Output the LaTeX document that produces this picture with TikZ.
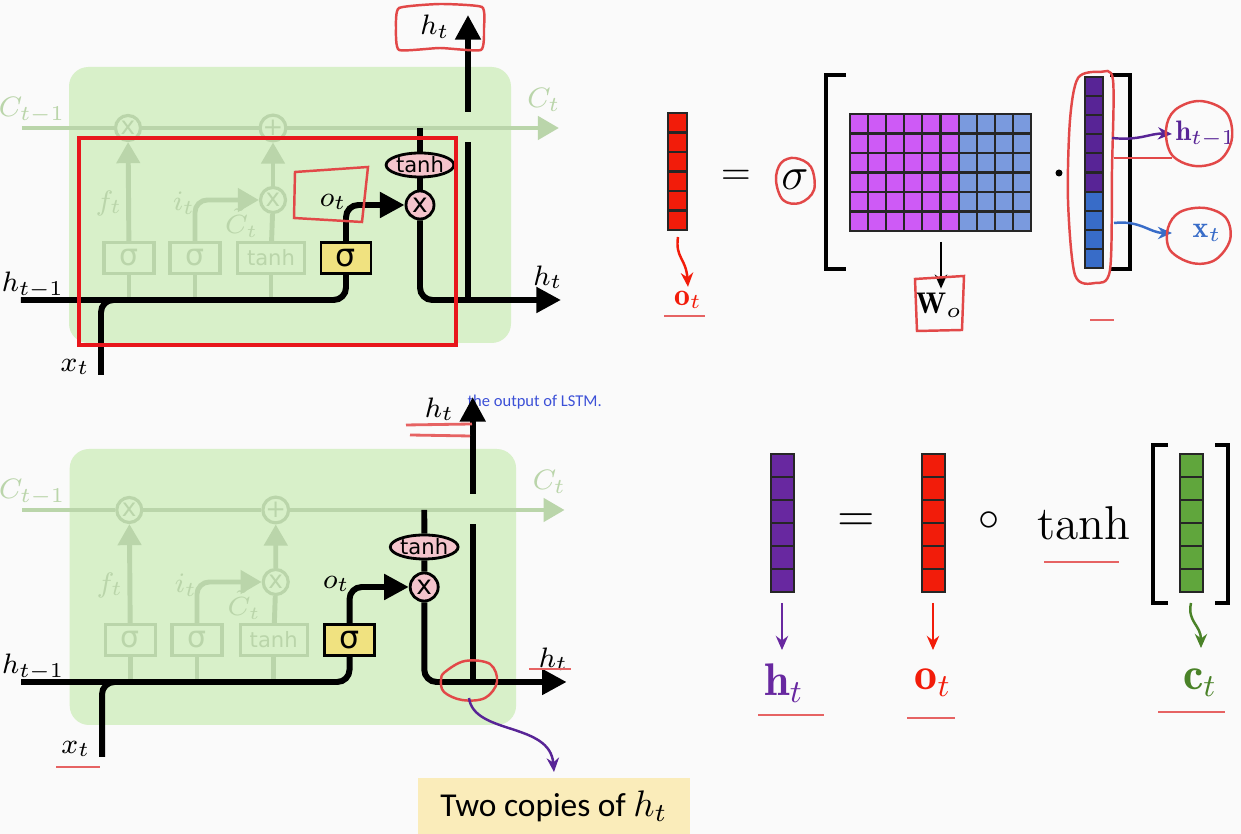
\RequirePackage{fix-cm}
\documentclass[tikz,border=0pt]{standalone}
\usepackage{fontspec}
\newfontfamily\gatefont{DejaVu Sans}
\newfontfamily\notefont{Carlito}
\definecolor{CellGreen}{RGB}{216,240,201}
\definecolor{FadeGreen}{RGB}{186,213,170}
\definecolor{OpPink}{RGB}{244,196,204}
\definecolor{GateYellow}{RGB}{240,226,128}
\definecolor{InkRed}{RGB}{226,72,72}
\definecolor{BoxRed}{RGB}{232,22,28}
\definecolor{VecRed}{RGB}{242,28,10}
\definecolor{VecPurple}{RGB}{104,40,160}
\definecolor{DeepPurple}{RGB}{88,36,150}
\definecolor{VecBlue}{RGB}{56,108,200}
\definecolor{MatPink}{RGB}{206,90,246}
\definecolor{MatBlue}{RGB}{122,154,222}
\definecolor{VecGreen}{RGB}{96,166,60}
\definecolor{LabelGreen}{RGB}{74,130,40}
\definecolor{NoteBlue}{RGB}{60,80,215}
\definecolor{NoteYellow}{RGB}{250,236,186}
\definecolor{PageGray}{RGB}{250,250,250}
\usetikzlibrary{arrows.meta, shapes.geometric, positioning, calc}
\tikzset{
    cellbg/.style={fill=CellGreen, rounded corners=5.5pt},
    faint/.style={draw=FadeGreen, line width=1.4pt, rounded corners=3.5pt},
    fainttip/.style={-{Triangle[length=6pt,width=6.5pt]}},
    faintop/.style={circle, draw=FadeGreen, fill=CellGreen, line width=0.9pt,
        minimum size=0.25cm, inner sep=0pt, text=FadeGreen,
        font=\gatefont\fontsize{7}{7}\selectfont},
    faintbox/.style={draw=FadeGreen, line width=0.9pt, minimum width=0.5cm,
        minimum height=0.31cm, inner sep=0pt, text=FadeGreen,
        font=\gatefont\fontsize{8.5}{9}\selectfont},
    faintlbl/.style={text=FadeGreen, inner sep=0.5pt, font=\fontsize{8}{9}\selectfont},
    flow/.style={line width=1.7pt, rounded corners=3.5pt},
    bigtip/.style={-{Triangle[length=7pt,width=7pt]}},
    opnode/.style={circle, draw, fill=OpPink, line width=0.8pt, minimum size=0.28cm,
        inner sep=0pt, font=\gatefont\fontsize{7.5}{8}\selectfont},
    actnode/.style={ellipse, draw, fill=OpPink, line width=0.8pt, minimum width=0.62cm,
        minimum height=0.24cm, inner sep=0pt, font=\gatefont\fontsize{6}{6}\selectfont},
    gatebox/.style={draw, fill=GateYellow, line width=0.8pt, minimum width=0.5cm,
        minimum height=0.31cm, inner sep=0pt, font=\gatefont\fontsize{9}{9}\selectfont},
    lbl/.style={font=\fontsize{8}{9}\selectfont},
    ink/.style={draw=InkRed, line width=0.7pt},
    underline/.style={draw=InkRed!85, line width=0.8pt},
    cellline/.style={draw=black!85, line width=0.6pt},
    pointer/.style={-{Stealth[length=4pt,width=3.5pt]}, line width=0.7pt},
    bracket/.style={line width=0.9pt}
}
\begin{document}
\begin{tikzpicture}[x=0.01cm, y=-0.01cm]
\useasboundingbox (0,0) rectangle (1241,834);
\fill[PageGray] (0,0) rectangle (1241,834);

\node[anchor=west, text=NoteBlue, font=\notefont\fontsize{4.7}{5}\selectfont, inner sep=0pt] (note) at (467,402) {the output of LSTM.};

% the two LSTM cells
\foreach \dy/\sx/\nm in {0/1/up, 382/1.01/dn}{
\begin{scope}[shift={(0,\dy)}, xscale=\sx]
    \fill[cellbg] (69,67) rectangle (511,343);
    \coordinate (\nm-cin) at (22,128);
    \coordinate (\nm-cout) at (559,128);
    \coordinate (\nm-hin) at (21,300);
    \coordinate (\nm-xin) at (101,375);
    \coordinate (\nm-xjoin) at (200,300);
    \coordinate (\nm-hout) at (561,300);
    \coordinate (\nm-cup) at (420,128);
    \coordinate (\nm-split) at (468,300);
    \coordinate (\nm-gapa) at (468,142);
    \coordinate (\nm-gapb) at (468,112);
    \coordinate (\nm-htop) at (468,15);
    % faded gates
    \node[faintop] (\nm-fx) at (128,128) {x};
    \node[faintop] (\nm-fp) at (273,128) {+};
    \node[faintop] (\nm-fi) at (273,200) {x};
    \node[faintbox] (\nm-fs) at (129,258) {σ};
    \node[faintbox] (\nm-is) at (195,258) {σ};
    \node[faintbox, minimum width=0.67cm, font=\gatefont\fontsize{6}{6}\selectfont] (\nm-ct) at (271,258) {tanh};
    \draw[faint] (\nm-cin) -- (\nm-fx) -- (\nm-fp);
    \draw[faint, fainttip] (\nm-fp) -- (\nm-cout);
    \foreach \g in {fs, is, ct} \draw[faint] (\nm-\g.south) -- (\nm-\g.south |- \nm-hin);
    \draw[faint, fainttip] (\nm-fs) -- (\nm-fx);
    \draw[faint, fainttip] (\nm-is.north) |- (\nm-fi);
    \draw[faint] (\nm-ct) -- (\nm-fi);
    \draw[faint, fainttip] (\nm-fi) -- (\nm-fp);
    \node[faintlbl] (\nm-lc) at (32,110) {$C_{t-1}$};
    \node[faintlbl] (\nm-lcn) at (544,100) {$C_t$};
    \node[faintlbl] (\nm-lf) at (109,203) {$f_t$};
    \node[faintlbl] (\nm-li) at (184,203) {$i_t$};
    \node[faintlbl, anchor=east, font=\fontsize{7.5}{8}\selectfont] (\nm-lct) at (261,223) {$\tilde{C}_t$};
    % output gate
    \node[gatebox] (\nm-og) at (346,258) {σ};
    \node[opnode] (\nm-ox) at (420,205) {x};
    \node[actnode] (\nm-ot) at (420,165) {tanh};
    \draw[flow] (\nm-hin) -| (\nm-og);
    \draw[flow] (\nm-xin) |- (\nm-xjoin);
    \draw[flow, bigtip] (\nm-og) |- (\nm-ox);
    \draw[flow] (\nm-cup) -- (\nm-ot);
    \draw[flow] (\nm-ot) -- (\nm-ox);
    \draw[flow, bigtip] (\nm-ox) |- (\nm-hout);
    \draw[flow] (\nm-split) -- (\nm-gapa);
    \draw[flow, bigtip] (\nm-gapb) -- (\nm-htop);
    \node[lbl] (\nm-lh) at (33,285) {$h_{t-1}$};
    \node[lbl] (\nm-lx) at (75,367) {$x_t$};
    \node[lbl] (\nm-lho) at (548,277) {$h_t$};
    \node[lbl] (\nm-lhu) at (435,27) {$h_t$};
    \node[lbl] (\nm-lo) at (333,202) {$o_t$};
\end{scope}
}

% marks on the upper cell
\draw[BoxRed, line width=1.3pt] (79,138) rectangle (456,345);
\draw[ink] plot[smooth cycle, tension=0.3] coordinates {(399,8) (440,4) (482,7) (484,28) (481,50) (440,48) (399,50) (396,28)};
\draw[ink] (295,172) -- (368,167) -- (362,222) -- (294,218) -- cycle;

% marks on the lower cell
\draw[underline] (406,425) -- (472,424);
\draw[underline] (410,435) -- (470,436);
\draw[underline] (529,669) -- (571,669);
\draw[underline] (56,767) -- (100,767);
\draw[ink] plot[smooth cycle, tension=0.6] coordinates {(445,672) (465,661) (490,664) (497,682) (485,698) (462,700) (444,692) (441,680)};
\node[fill=NoteYellow, minimum width=2.72cm, minimum height=0.56cm, inner sep=0pt,
      font=\notefont\fontsize{9.5}{11}\selectfont] (copies) at (554,806) {Two copies of {\fontsize{10.5}{11}\selectfont$h_t$}};
\coordinate (loopend) at (469,698);
\coordinate (copytip) at (554,772);
\draw[pointer, DeepPurple] (loopend) .. controls (474,735) and (550,722) .. (copytip);

% o_t = sigma(W_o [h_{t-1}; x_t])
\foreach \i in {0,...,5} \draw[cellline, fill=VecRed] (668,113+19.5*\i) rectangle ++(19,19.5);
\node[font=\fontsize{11}{12}\selectfont] (eqa) at (736,177) {$=$};
\node[font=\fontsize{13}{14}\selectfont] (sig) at (795,180) {$\sigma$};
\draw[ink] plot[smooth cycle, tension=0.6] coordinates {(795,158) (811,167) (814,190) (800,203) (783,200) (776,180) (781,163)};
\draw[bracket] (846,75) -- (826,75) -- (826,269) -- (846,269);
\draw[bracket] (1110,75) -- (1130,75) -- (1130,269) -- (1110,269);
\foreach \r in {0,...,5}{
    \foreach \c in {0,...,5} \draw[cellline, fill=MatPink] (850+18.1*\c,114+19.5*\r) rectangle ++(18.1,19.5);
    \foreach \c in {6,...,9} \draw[cellline, fill=MatBlue] (850+18.1*\c,114+19.5*\r) rectangle ++(18.1,19.5);
}
\node[circle, fill, inner sep=0pt, minimum size=0.07cm] (dot) at (1059,173) {};
\foreach \i in {0,...,5} \draw[cellline, fill=DeepPurple] (1085,77+19.1*\i) rectangle ++(18,19.1);
\foreach \i in {6,...,9} \draw[cellline, fill=VecBlue] (1085,77+19.1*\i) rectangle ++(18,19.1);
\draw[ink] plot[smooth cycle, tension=0.5] coordinates {(1078,78) (1100,72) (1113,80) (1112,170) (1110,270) (1095,283) (1075,275) (1068,200) (1070,120)};

\node[text=VecRed, font=\fontsize{9}{10}\selectfont, inner sep=1pt] (lo) at (688,300) {$\mathbf{o}_t$};
\coordinate (otail) at (678,237);
\draw[pointer, VecRed] (otail) .. controls (675,258) and (686,258) .. (lo.north);
\draw[underline] (664,316) -- (705,316);

\node[font=\fontsize{8.5}{10}\selectfont, inner sep=1pt] (lw) at (939,305) {$\mathbf{W}_o$};
\coordinate (wtail) at (941,242);
\draw[pointer] (wtail) -- (wtail |- lw.north);
\draw[ink] (915,279) -- (964,276) -- (962,330) -- (917,331) -- cycle;

\node[text=DeepPurple, font=\fontsize{8}{9}\selectfont, anchor=west, inner sep=0pt] (lhp) at (1175,134) {$\mathbf{h}_{t-1}$};
\coordinate (htail) at (1112,138);
\coordinate (hhead) at (1172,134);
\draw[pointer, DeepPurple] (htail) .. controls (1140,141) and (1150,133) .. (hhead);
\draw[ink] plot[smooth cycle, tension=0.6] coordinates {(1175,110) (1200,101) (1226,112) (1232,138) (1220,160) (1195,166) (1172,155) (1166,130)};
\draw[ink] (1114,158) -- (1172,158);

\node[text=VecBlue, font=\fontsize{8.5}{9}\selectfont, anchor=west, inner sep=0pt] (lxp) at (1192,233) {$\mathbf{x}_t$};
\coordinate (xtail) at (1114,223);
\coordinate (xhead) at (1172,233);
\draw[pointer, VecBlue] (xtail) .. controls (1140,220) and (1150,233) .. (xhead);
\draw[ink] plot[smooth cycle, tension=0.6] coordinates {(1180,212) (1205,208) (1226,218) (1230,240) (1215,260) (1192,263) (1170,250) (1168,228)};
\draw[underline] (1090,320) -- (1114,320);

% h_t = o_t o tanh(c_t)
\foreach \i in {0,...,5} \draw[cellline, fill=VecPurple] (771,454+23*\i) rectangle ++(23,23);
\node[font=\fontsize{14}{15}\selectfont] (eqb) at (856,523) {$=$};
\foreach \i in {0,...,5} \draw[cellline, fill=VecRed] (922,454+23*\i) rectangle ++(23,23);
\node[font=\fontsize{12}{13}\selectfont] (hada) at (989,521) {$\circ$};
\node[font=\fontsize{13.5}{15}\selectfont] (tanhb) at (1084,523) {tanh};
\draw[underline] (1044,562) -- (1119,562);
\draw[bracket] (1168,445) -- (1153,445) -- (1153,603) -- (1168,603);
\draw[bracket] (1215,445) -- (1228,445) -- (1228,603) -- (1215,603);
\foreach \i in {0,...,5} \draw[cellline, fill=VecGreen] (1180,454+23*\i) rectangle ++(23,23);

\node[text=VecPurple, font=\fontsize{13}{15}\selectfont] (lhb) at (784,683) {$\mathbf{h}_t$};
\node[text=VecRed, font=\fontsize{13}{15}\selectfont] (lob) at (933,683) {$\mathbf{o}_t$};
\node[text=LabelGreen, font=\fontsize{13}{15}\selectfont] (lcb) at (1200,683) {$\mathbf{c}_t$};
\coordinate (hbtail) at (782,603);
\coordinate (hbhead) at (782,650);
\coordinate (obtail) at (933,603);
\coordinate (obhead) at (933,650);
\coordinate (cbtail) at (1191,603);
\coordinate (cbhead) at (1201,648);
\draw[pointer, VecPurple] (hbtail) -- (hbhead);
\draw[pointer, VecRed] (obtail) -- (obhead);
\draw[pointer, LabelGreen] (cbtail) .. controls (1187,622) and (1201,625) .. (cbhead);
\draw[underline] (758,715) -- (824,715);
\draw[underline] (907,718) -- (955,718);
\draw[underline] (1158,712) -- (1225,712);
\end{tikzpicture}
\end{document}
